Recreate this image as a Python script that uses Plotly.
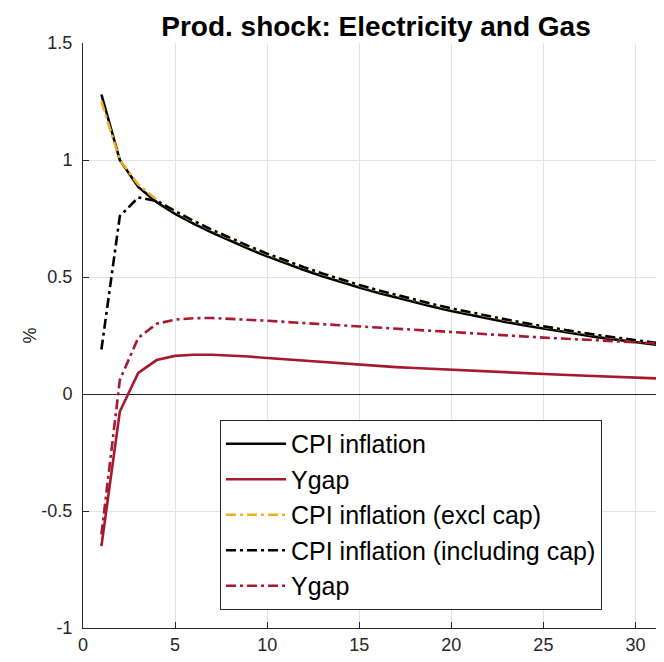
import plotly.graph_objects as go

periods = list(range(1, 34))
cpi_inflation = [1.28, 1.00, 0.885, 0.82, 0.77, 0.728, 0.690, 0.654, 0.620, 0.588,
                 0.558, 0.530, 0.503, 0.478, 0.455, 0.433, 0.412, 0.392, 0.373, 0.355,
                 0.338, 0.322, 0.307, 0.293, 0.279, 0.266, 0.254, 0.242, 0.231, 0.220,
                 0.210, 0.200, 0.191]
ygap = [-0.65, -0.075, 0.09, 0.145, 0.163, 0.168, 0.168, 0.165, 0.160, 0.154,
        0.148, 0.142, 0.136, 0.130, 0.125, 0.120, 0.115, 0.111, 0.107, 0.103,
        0.099, 0.095, 0.092, 0.088, 0.085, 0.082, 0.079, 0.076, 0.073, 0.070,
        0.067, 0.064, 0.061]
cpi_excl_cap = [1.25, 1.00, 0.895, 0.83, 0.78, 0.738, 0.700, 0.664, 0.630, 0.598,
                0.568, 0.540, 0.513, 0.488, 0.464, 0.442, 0.421, 0.401, 0.382, 0.364,
                0.347, 0.331, 0.316, 0.301, 0.287, 0.274, 0.261, 0.249, 0.238, 0.227,
                0.216, 0.206, 0.197]
cpi_incl_cap = [0.19, 0.76, 0.84, 0.825, 0.782, 0.740, 0.702, 0.666, 0.632, 0.600,
                0.570, 0.542, 0.515, 0.490, 0.466, 0.444, 0.423, 0.403, 0.384, 0.366,
                0.349, 0.333, 0.318, 0.303, 0.289, 0.276, 0.263, 0.251, 0.240, 0.229,
                0.218, 0.208, 0.199]
ygap_cap = [-0.60, 0.06, 0.24, 0.30, 0.318, 0.324, 0.325, 0.322, 0.318, 0.313,
            0.308, 0.303, 0.298, 0.293, 0.288, 0.283, 0.278, 0.273, 0.268, 0.264,
            0.259, 0.255, 0.250, 0.246, 0.241, 0.237, 0.233, 0.229, 0.225, 0.221,
            0.217, 0.213, 0.209]

x_ticks = [0, 5, 10, 15, 20, 25, 30]
y_ticks = [-1, -0.5, 0, 0.5, 1, 1.5]
y_tick_labels = ["-1", "-0.5", "0", "0.5", "1", "1.5"]

RED = "#A6192E"
YELLOW = "#EDB120"
DASH = "10px,4px,3px,4px"

series = [
    ("CPI inflation", cpi_inflation, "black", "solid"),
    ("Ygap", ygap, RED, "solid"),
    ("CPI inflation (excl cap)", cpi_excl_cap, YELLOW, DASH),
    ("CPI inflation (including cap)", cpi_incl_cap, "black", DASH),
    ("Ygap", ygap_cap, RED, DASH),
]

fig = go.Figure()
for i, (name, vals, col, dash) in enumerate(series):
    fig.add_trace(go.Scatter(
        x=periods, y=vals, mode="lines", name=name,
        line=dict(color=col, width=2.6, dash=dash),
    ))

W, H = 656, 646
font = "Liberation Sans, Arial, Helvetica, sans-serif"
fig.update_layout(
    width=W, height=H,
    margin=dict(l=75, r=0, t=35, b=26),
    plot_bgcolor="white", paper_bgcolor="white",
    font=dict(family=font, size=18, color="#262626"),
    title=dict(text="<b>Prod. shock: Electricity and Gas</b>",
               x=368/W, xref="container", xanchor="center",
               y=1-18/H, yref="container", yanchor="middle",
               font=dict(size=28, color="black", family=font)),
    showlegend=True,
    legend=dict(x=0.2358, y=0.3556, xanchor="left", yanchor="top",
                bgcolor="white", bordercolor="#262626", borderwidth=1,
                font=dict(size=25, color="black", family=font),
                tracegroupgap=0, itemwidth=60),
    xaxis=dict(range=[0, 31.55], tickvals=x_ticks, showgrid=True,
               gridcolor="#E3E3E3", gridwidth=1, zeroline=False,
               showline=True, linecolor="#262626", linewidth=1,
               ticks="inside", ticklen=6, tickcolor="#262626",
               tickfont=dict(size=18, color="#262626")),
    yaxis=dict(range=[-1, 1.5], tickvals=y_ticks, ticktext=y_tick_labels,
               showgrid=True, gridcolor="#E3E3E3", gridwidth=1,
               zeroline=True, zerolinecolor="#262626", zerolinewidth=1,
               showline=True, linecolor="#262626", linewidth=1,
               ticks="inside", ticklen=6, tickcolor="#262626",
               ticklabelstandoff=6,
               tickfont=dict(size=18, color="#262626"),
               title=dict(text="%", font=dict(size=18, color="#262626"), standoff=0)),
)

fig.write_html("out.html")
